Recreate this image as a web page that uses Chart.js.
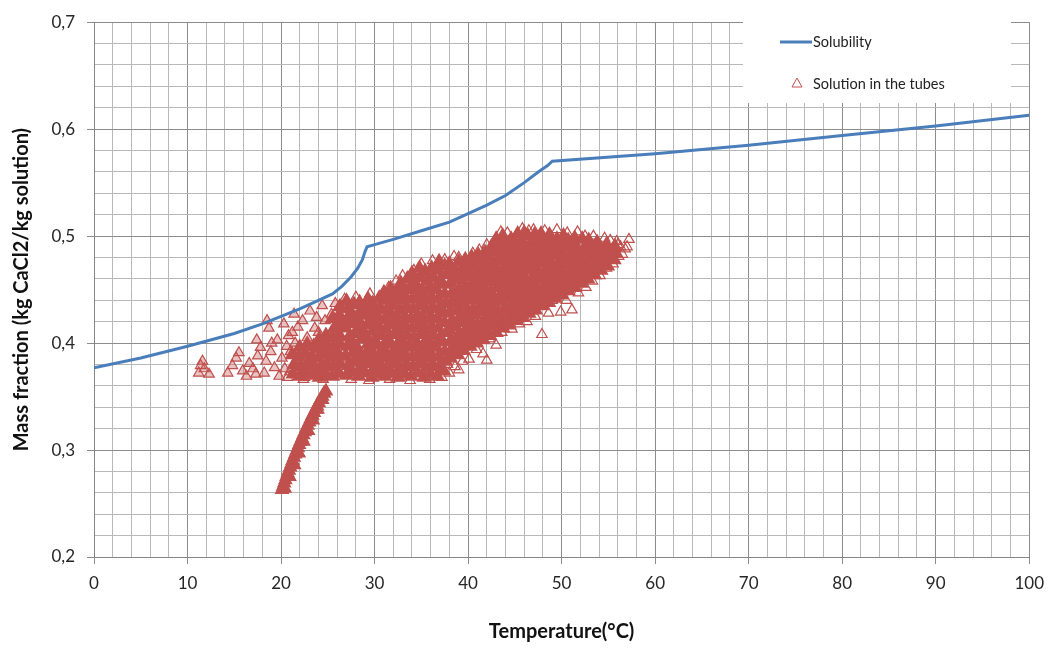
<!DOCTYPE html>
<html>
<head>
<meta charset="utf-8">
<title>Solubility of CaCl2 and solution in the tubes</title>
<script src="https://cdn.jsdelivr.net/npm/chart.js@4.4.1/dist/chart.umd.min.js"></script>
<style>
  html, body { margin: 0; padding: 0; background: #fff; }
  #wrap { width: 1053px; height: 648px; }
</style>
</head>
<body>
<div id="wrap"><canvas id="chart" width="1053" height="648"></canvas></div>
<script>
// ----------------------------------------
// solubility curve (temperature, mass fraction)
// ----------------------------------------
const solubilityT = [0, 5, 10, 15, 18, 20, 22, 24, 25.5, 26.5, 27.5, 28.2, 28.7, 29.0, 29.2,
  30, 32, 35, 38, 40, 42, 44, 46, 47.5, 48.5, 49, 60, 70, 80, 90, 100];
const solubilityX = [0.377, 0.386, 0.397, 0.409, 0.418, 0.425, 0.432, 0.440, 0.446, 0.453, 0.462, 0.470, 0.478, 0.486, 0.490,
  0.492, 0.497, 0.505, 0.513, 0.521, 0.529, 0.538, 0.550, 0.560, 0.566, 0.570, 0.577, 0.585, 0.594, 0.603, 0.613];

// ----------------------------------------
// measured points in the tubes [T, x]
// ----------------------------------------
const tubesLeft = [
  [11.2,0.372],[11.4,0.379],[11.6,0.383],[12.3,0.371],[11.8,0.376],
  [14.3,0.372],[14.8,0.379],[15.2,0.386],[15.5,0.391],[15.9,0.374],[16.3,0.369],[16.6,0.381],[17.0,0.376],
  [17.3,0.371],[17.5,0.388],[17.4,0.403],[17.8,0.396],[18.2,0.372],[18.4,0.383],[18.5,0.421],[18.7,0.414],
  [18.9,0.392],[19.3,0.377],[19.6,0.403],[19.8,0.369],[20.1,0.386],[20.3,0.418],[20.6,0.397],[20.9,0.373],
  [21.2,0.410],[21.4,0.427],[21.7,0.382],[22.0,0.394],[22.3,0.421],[22.5,0.368],[22.8,0.405],[23.1,0.430],
  [23.3,0.386],[23.6,0.414],[23.9,0.375],[24.2,0.398],[24.4,0.435],[24.7,0.421],[25.0,0.369],[25.2,0.390],
  [25.5,0.410],[25.8,0.437],[26.1,0.380],[26.4,0.425],[26.7,0.400],[21.0,0.392],[22.6,0.378],[24.0,0.410],
  [25.4,0.427],[19.0,0.400],[20.4,0.376],[23.0,0.372],[24.6,0.384],[26.0,0.415],[21.8,0.415],
  [22.1,0.372],[23.5,0.396],[24.9,0.402],[25.9,0.392],[26.3,0.371],[21.5,0.400],[23.8,0.424],[20.8,0.407],
  [24.3,0.376],[25.1,0.381],[25.7,0.372],[26.5,0.386],[24.8,0.392],[23.2,0.379],[26.2,0.434]
];

const tubesCoreLeft = [
  [21.3,0.371],[21.4,0.380],[21.2,0.389],
  [22.0,0.369],[22.1,0.378],[21.9,0.387],[22.0,0.396],
  [22.7,0.372],[22.8,0.381],[22.6,0.390],[22.8,0.399],
  [23.4,0.370],[23.5,0.379],[23.3,0.388],[23.5,0.397],
  [24.1,0.368],[24.2,0.377],[24.0,0.386],[24.2,0.395],[24.1,0.404],
  [24.8,0.371],[24.9,0.380],[24.7,0.389],[24.9,0.398],[24.8,0.407],
  [25.5,0.369],[25.6,0.378],[25.4,0.387],[25.6,0.396],[25.5,0.405],[25.7,0.414],[25.5,0.423],
  [26.2,0.372],[26.3,0.381],[26.1,0.390],[26.3,0.399],[26.2,0.408],[26.4,0.417],[26.2,0.426],[26.3,0.434]
];

const tubesCore = [
  [27.0,0.370],[27.2,0.379],[26.9,0.388],[27.1,0.397],[27.3,0.406],[26.9,0.414],[27.1,0.423],[27.2,0.432],[27.0,0.439],
  [27.6,0.373],[27.8,0.382],[27.7,0.391],[27.5,0.400],[27.9,0.409],[27.7,0.418],[27.6,0.427],[27.8,0.436],
  [28.3,0.369],[28.5,0.377],[28.4,0.386],[28.2,0.395],[28.6,0.404],[28.4,0.412],[28.3,0.421],[28.5,0.430],[28.4,0.438],
  [29.0,0.372],[29.2,0.381],[29.1,0.390],[29.3,0.399],[29.0,0.408],[29.2,0.417],[29.1,0.426],[29.0,0.434],[29.3,0.441],
  [29.7,0.368],[29.9,0.376],[29.8,0.385],[29.6,0.394],[30.0,0.403],[29.8,0.411],[29.7,0.420],[29.9,0.429],[29.8,0.437],
  [30.4,0.371],[30.6,0.380],[30.5,0.389],[30.3,0.398],[30.7,0.407],[30.5,0.415],[30.4,0.424],[30.6,0.433],[30.5,0.442],
  [31.1,0.369],[31.3,0.377],[31.2,0.386],[31.0,0.395],[31.4,0.404],[31.2,0.413],[31.1,0.422],[31.3,0.431],[31.2,0.440],[31.0,0.447],
  [31.8,0.372],[32.0,0.381],[31.9,0.390],[31.7,0.399],[32.1,0.408],[31.9,0.417],[31.8,0.426],[32.0,0.435],[31.9,0.444],[31.7,0.451],
  [32.5,0.368],[32.7,0.377],[32.6,0.386],[32.4,0.395],[32.8,0.404],[32.6,0.413],[32.5,0.422],[32.7,0.431],[32.6,0.440],[32.4,0.449],[32.8,0.456],
  [33.2,0.371],[33.4,0.380],[33.3,0.389],[33.1,0.398],[33.5,0.407],[33.3,0.416],[33.2,0.425],[33.4,0.434],[33.3,0.443],[33.1,0.452],[33.5,0.460],
  [33.9,0.369],[34.1,0.378],[34.0,0.387],[33.8,0.396],[34.2,0.405],[34.0,0.414],[33.9,0.423],[34.1,0.432],[34.0,0.441],[33.8,0.450],[34.2,0.458],[34.0,0.465],
  [34.6,0.372],[34.8,0.381],[34.7,0.390],[34.5,0.399],[34.9,0.408],[34.7,0.417],[34.6,0.426],[34.8,0.435],[34.7,0.444],[34.5,0.453],[34.9,0.461],[34.8,0.470],
  [35.3,0.368],[35.5,0.377],[35.4,0.386],[35.2,0.395],[35.6,0.404],[35.4,0.413],[35.3,0.422],[35.5,0.431],[35.4,0.440],[35.2,0.449],[35.6,0.458],[35.4,0.467],
  [36.0,0.371],[36.2,0.380],[36.1,0.389],[35.9,0.398],[36.3,0.407],[36.1,0.416],[36.0,0.425],[36.2,0.434],[36.1,0.443],[35.9,0.452],[36.3,0.461],[36.1,0.470],
  [36.7,0.369],[36.9,0.378],[36.8,0.387],[36.6,0.396],[37.0,0.405],[36.8,0.414],[36.7,0.423],[36.9,0.432],[36.8,0.441],[36.6,0.450],[37.0,0.459],[36.8,0.468],[36.9,0.476],
  [37.4,0.374],[37.6,0.383],[37.5,0.392],[37.3,0.401],[37.7,0.410],[37.5,0.419],[37.4,0.428],[37.6,0.437],[37.5,0.446],[37.3,0.455],[37.7,0.464],[37.5,0.472]
];

const tubesUpper = [
  [38.1,0.386],[38.3,0.395],[38.2,0.403],[38.0,0.412],[38.3,0.421],[38.1,0.430],[38.2,0.438],[38.3,0.447],[38.1,0.456],[38.2,0.465],[38.0,0.474],
  [38.8,0.389],[39.0,0.398],[38.9,0.406],[38.7,0.415],[39.1,0.424],[38.9,0.432],[38.8,0.441],[39.0,0.450],[38.9,0.459],[38.7,0.467],[39.0,0.476],
  [39.5,0.393],[39.7,0.402],[39.6,0.410],[39.4,0.419],[39.8,0.428],[39.6,0.436],[39.5,0.445],[39.7,0.453],[39.6,0.462],[39.4,0.470],[39.7,0.478],
  [40.2,0.397],[40.4,0.406],[40.3,0.414],[40.1,0.423],[40.5,0.431],[40.3,0.440],[40.2,0.448],[40.4,0.456],[40.3,0.464],[40.1,0.472],[40.4,0.480],
  [40.9,0.400],[41.1,0.409],[41.0,0.417],[40.8,0.426],[41.2,0.434],[41.0,0.442],[40.9,0.450],[41.1,0.458],[41.0,0.466],[40.8,0.474],[41.1,0.482],
  [41.6,0.403],[41.8,0.412],[41.7,0.420],[41.5,0.429],[41.9,0.437],[41.7,0.445],[41.6,0.453],[41.8,0.461],[41.7,0.469],[41.5,0.477],[41.8,0.485],
  [42.3,0.407],[42.5,0.416],[42.4,0.424],[42.2,0.432],[42.6,0.440],[42.4,0.448],[42.3,0.457],[42.5,0.465],[42.4,0.473],[42.2,0.481],[42.5,0.490],
  [43.0,0.410],[43.2,0.419],[43.1,0.427],[42.9,0.435],[43.3,0.443],[43.1,0.452],[43.0,0.460],[43.2,0.468],[43.1,0.477],[42.9,0.485],[43.2,0.493],[43.0,0.497],
  [43.7,0.414],[43.9,0.422],[43.8,0.431],[43.6,0.439],[44.0,0.447],[43.8,0.455],[43.7,0.463],[43.9,0.471],[43.8,0.479],[43.6,0.487],[43.9,0.495],[43.7,0.500],
  [44.4,0.417],[44.6,0.425],[44.5,0.433],[44.3,0.442],[44.7,0.450],[44.5,0.458],[44.4,0.466],[44.6,0.474],[44.5,0.482],[44.3,0.490],[44.6,0.497],
  [45.1,0.421],[45.3,0.429],[45.2,0.437],[45.0,0.445],[45.4,0.453],[45.2,0.461],[45.1,0.469],[45.3,0.477],[45.2,0.485],[45.0,0.493],[45.3,0.502],
  [45.8,0.424],[46.0,0.432],[45.9,0.440],[45.7,0.448],[46.1,0.456],[45.9,0.464],[45.8,0.472],[46.0,0.480],[45.9,0.488],[45.7,0.496],[46.0,0.503],
  [46.5,0.428],[46.7,0.436],[46.6,0.444],[46.4,0.452],[46.8,0.460],[46.6,0.468],[46.5,0.476],[46.7,0.484],[46.6,0.492],[46.4,0.500],
  [47.2,0.431],[47.4,0.439],[47.3,0.447],[47.1,0.455],[47.5,0.463],[47.3,0.471],[47.2,0.479],[47.4,0.487],[47.3,0.494],[47.1,0.501],
  [47.9,0.435],[48.1,0.443],[48.0,0.451],[47.8,0.459],[48.2,0.467],[48.0,0.475],[47.9,0.483],[48.1,0.490],[48.0,0.497],[47.8,0.502],
  [48.6,0.438],[48.8,0.446],[48.7,0.454],[48.5,0.462],[48.9,0.470],[48.7,0.478],[48.6,0.486],[48.8,0.493],[48.7,0.501],
  [49.3,0.442],[49.5,0.450],[49.4,0.458],[49.2,0.466],[49.6,0.474],[49.4,0.482],[49.3,0.490],[49.5,0.497],
  [50.0,0.445],[50.2,0.453],[50.1,0.461],[49.9,0.469],[50.3,0.477],[50.1,0.485],[50.0,0.492],[50.2,0.500],
  [50.7,0.449],[50.9,0.457],[50.8,0.465],[50.6,0.473],[51.0,0.481],[50.8,0.489],[50.7,0.496],
  [51.4,0.452],[51.6,0.460],[51.5,0.468],[51.3,0.476],[51.7,0.484],[51.5,0.491],[51.4,0.498],
  [52.1,0.456],[52.3,0.464],[52.2,0.472],[52.0,0.480],[52.4,0.488],[52.2,0.497],
  [52.8,0.460],[53.0,0.468],[52.9,0.476],[52.7,0.484],[53.1,0.491],[52.9,0.496],
  [53.5,0.464],[53.7,0.472],[53.6,0.479],[53.4,0.487],[53.8,0.494],
  [54.2,0.468],[54.4,0.475],[54.3,0.483],[54.1,0.490],
  [54.9,0.472],[55.1,0.479],[55.0,0.486],[54.8,0.492],
  [55.6,0.478],[55.8,0.484],[55.7,0.490]
];

const tubesSparse = [
  [38.6,0.378],[39.4,0.383],[40.1,0.385],[40.9,0.394],[41.6,0.390],[42.0,0.384],[42.3,0.404],[43.0,0.398],
  [43.6,0.410],[44.7,0.413],[45.5,0.418],[46.3,0.420],[47.9,0.408],[47.2,0.425],[48.6,0.428],[49.9,0.429],
  [50.5,0.440],[51.1,0.431],[51.8,0.447],[52.6,0.452],[53.3,0.458],[54.1,0.463],[54.8,0.470],[55.5,0.474],
  [56.1,0.481],[56.5,0.483],[56.3,0.490],[57.2,0.497],[56.8,0.488],[55.9,0.495],
  [43.5,0.504],[45.8,0.507],[47.0,0.506],[49.5,0.506],[51.7,0.504],[53.4,0.500],[54.6,0.498],
  [35.0,0.474],[36.2,0.477],[39.0,0.480],[41.2,0.487],[33.0,0.463],[30.8,0.445],
  [27.5,0.366],[29.4,0.365],[31.6,0.366],[33.8,0.365],[35.9,0.366],[37.2,0.368],
  [38.0,0.372],[39.0,0.375],[37.8,0.380],
  [28.0,0.443],[29.5,0.446],[31.5,0.452],[32.3,0.458],[34.2,0.468],[37.5,0.478],[38.5,0.481],[40.5,0.484],
  [42.0,0.492],[44.2,0.503],[46.5,0.505],[48.2,0.505],[50.6,0.503],[52.5,0.500],[55.2,0.496],[56.0,0.492],
  [57.0,0.490],[53.8,0.468],[55.3,0.480],[52.3,0.459],[50.2,0.448],[49.0,0.440],[46.8,0.430],[45.0,0.424],
  [44.0,0.418],[26.8,0.441],[22.4,0.366],[24.5,0.366],[20.7,0.368]
];

const tubesStrand = [
  [20.10,0.263],[20.22,0.266],[20.34,0.269],[20.46,0.272],[20.58,0.275],[20.71,0.278],[20.84,0.281],[20.97,0.284],
  [21.10,0.287],[21.23,0.290],[21.37,0.293],[21.51,0.296],[21.65,0.299],[21.79,0.302],[21.93,0.305],[22.08,0.308],
  [22.23,0.311],[22.38,0.314],[22.53,0.317],[22.69,0.320],[22.85,0.323],[23.01,0.326],[23.17,0.329],[23.34,0.332],
  [23.51,0.335],[23.68,0.338],[23.86,0.341],[24.04,0.344],[24.22,0.347],[24.41,0.350],[24.60,0.353],
  [20.40,0.264],[20.90,0.275],[21.40,0.286],[21.90,0.297],[22.40,0.308],[22.90,0.318],[23.40,0.328],
  [23.90,0.338],[24.40,0.347],[24.80,0.355]
];

// axis tick layout
const xMin = 0, xMax = 100, xStep = 2;
const yMin = 0.2, yMax = 0.7, yStep = 0.02;

// ----------------------------------------
// helpers
// ----------------------------------------
const RED = '#c0504d';
const BLUE = '#4a7ebb';
const isMajorX = v => Math.abs(v % 10) < 1e-6;
const isMajorY = v => Math.abs(v * 10 - Math.round(v * 10)) < 1e-6;

const solubilityData = solubilityT.map((t, i) => ({ x: t, y: solubilityX[i] }));
const tubeGroups = [tubesLeft, tubesCoreLeft, tubesCore, tubesUpper, tubesSparse, tubesStrand];
// the dense parts of the cloud print as solid red in the original
const groupFill = ['rgba(192,80,77,0.35)', 'rgba(192,80,77,1)', 'rgba(192,80,77,1)', 'rgba(192,80,77,1)',
  'rgba(255,255,255,0)', 'rgba(192,80,77,1)'];
const groupBorder = [1.2, 3, 3, 3, 1.2, 2.6];
const tubeData = [];
const tubeFill = [];
const tubeBorder = [];
tubeGroups.forEach((g, gi) => {
  g.forEach(p => {
    tubeData.push({ x: p[0], y: p[1] });
    tubeFill.push(groupFill[gi]);
    tubeBorder.push(groupBorder[gi]);
  });
});

// legend box inside the plot (upper right)
const insideLegend = {
  id: 'insideLegend',
  afterDatasetsDraw(chart) {
    const ctx = chart.ctx;
    ctx.save();
    ctx.fillStyle = '#ffffff';
    ctx.fillRect(743, 18, 268, 85);
    // line sample
    ctx.strokeStyle = BLUE;
    ctx.lineWidth = 3;
    ctx.beginPath();
    ctx.moveTo(780, 42);
    ctx.lineTo(812, 42);
    ctx.stroke();
    // triangle sample
    ctx.strokeStyle = RED;
    ctx.lineWidth = 1;
    ctx.beginPath();
    ctx.moveTo(797, 78);
    ctx.lineTo(802, 87);
    ctx.lineTo(792, 87);
    ctx.closePath();
    ctx.stroke();
    ctx.fillStyle = '#222';
    ctx.font = '14.5px Lato, "Open Sans", sans-serif';
    ctx.textBaseline = 'middle';
    ctx.fillText('Solubility', 813, 42);
    ctx.fillText('Solution in the tubes', 813, 84);
    ctx.restore();
  }
};

// ----------------------------------------
// chart
// ----------------------------------------
const ctx = document.getElementById('chart').getContext('2d');
new Chart(ctx, {
  type: 'scatter',
  data: {
    datasets: [
      {
        label: 'Solubility',
        data: solubilityData,
        showLine: true,
        borderColor: BLUE,
        borderWidth: 3,
        pointRadius: 0,
        tension: 0
      },
      {
        label: 'Solution in the tubes',
        data: tubeData,
        pointStyle: 'triangle',
        pointRadius: 6,
        borderColor: RED,
        borderWidth: c => tubeBorder[c.dataIndex] || 1.2,
        backgroundColor: c => tubeFill[c.dataIndex] || 'rgba(255,255,255,0)'
      }
    ]
  },
  options: {
    responsive: false,
    animation: false,
    devicePixelRatio: 1,
    layout: { padding: { left: 0, top: 17, right: 22, bottom: 0 } },
    plugins: {
      legend: { display: false },
      tooltip: { enabled: false }
    },
    scales: {
      x: {
        type: 'linear',
        min: xMin,
        max: xMax,
        afterFit(scale) { scale.height = 91; },
        ticks: {
          stepSize: xStep,
          autoSkip: false,
          maxRotation: 0,
          padding: 9,
          color: '#262626',
          font: { family: 'Lato, "Open Sans", sans-serif', size: 17 },
          callback: v => isMajorX(v) ? String(v) : ''
        },
        grid: {
          color: c => isMajorX(c.tick.value) ? '#8c8c8c' : '#b8b8b8',
          tickColor: c => isMajorX(c.tick.value) ? '#8c8c8c' : 'rgba(0,0,0,0)',
          tickLength: 7,
          lineWidth: 1
        },
        border: { color: '#868686' },
        title: {
          display: true,
          text: 'Temperature(°C)',
          color: '#111',
          padding: { top: 0, bottom: 4 },
          font: { family: 'Lato, "Open Sans", sans-serif', size: 20, weight: 'bold' }
        }
      },
      y: {
        type: 'linear',
        min: yMin,
        max: yMax,
        afterFit(scale) { scale.width = 94; },
        ticks: {
          stepSize: yStep,
          autoSkip: false,
          padding: 12,
          color: '#262626',
          font: { family: 'Lato, "Open Sans", sans-serif', size: 17 },
          callback: v => isMajorY(v) ? v.toFixed(1).replace('.', ',') : ''
        },
        grid: {
          color: c => isMajorY(c.tick.value) ? '#8c8c8c' : '#b8b8b8',
          tickColor: c => isMajorY(c.tick.value) ? '#8c8c8c' : 'rgba(0,0,0,0)',
          tickLength: 7,
          lineWidth: 1
        },
        border: { color: '#868686' },
        title: {
          display: true,
          text: 'Mass fraction (kg CaCl2/kg solution)',
          color: '#111',
          padding: { top: 10, bottom: 0 },
          font: { family: 'Lato, "Open Sans", sans-serif', size: 20, weight: 'bold' }
        }
      }
    }
  },
  plugins: [insideLegend]
});
</script>
</body>
</html>
